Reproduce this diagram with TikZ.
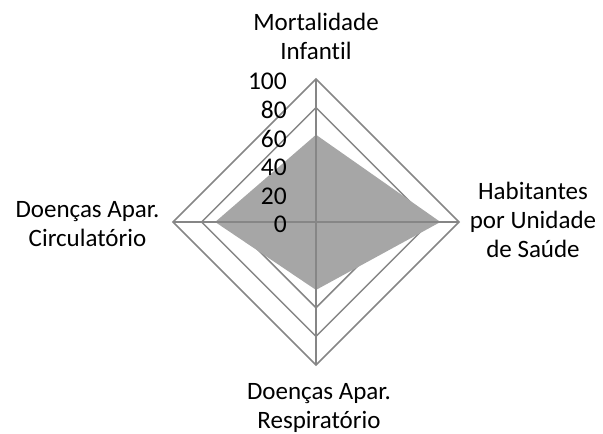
\documentclass[tikz,border=0pt]{standalone}
\usepackage{fontspec}
\setmainfont[Ligatures=NoCommon]{Carlito}
\usetikzlibrary{calc}
\definecolor{gridgray}{HTML}{868686}
\definecolor{fillgray}{HTML}{A6A6A6}
\begin{document}
\begin{tikzpicture}[x=1pt,y=1pt,
  gridline/.style={draw=gridgray,line width=1.5pt,line join=miter},
  spoke/.style={draw=gridgray,line width=1.5pt},
  datafill/.style={fill=fillgray,draw=none},
  ticklbl/.style={anchor=base east,inner sep=0pt,font=\fontsize{25.5}{29}\selectfont},
  axlbl/.style={anchor=base,inner sep=0pt,align=center,font=\fontsize{25}{29}\selectfont}]
\useasboundingbox (0,0) rectangle (603,434);
\coordinate (C) at (316,212);
\def\R{143}
% rings
\foreach \k in {1,...,5}{
  \draw[gridline] ($(C)+(0,\R*\k/5)$) -- ($(C)+(\R*\k/5,0)$) -- ($(C)+(0,-\R*\k/5)$) -- ($(C)+(-\R*\k/5,0)$) -- cycle;
}
% data
\fill[datafill] ($(C)+(0,\R*0.61)$) -- ($(C)+(\R*0.87,0)$) -- ($(C)+(0,-\R*0.475)$) -- ($(C)+(-\R*0.705,0)$) -- cycle;
% spokes
\coordinate (T) at ($(C)+(0,\R)$);
\coordinate (Rt) at ($(C)+(\R,0)$);
\coordinate (B) at ($(C)+(0,-\R)$);
\coordinate (L) at ($(C)+(-\R,0)$);
\draw[spoke] (C) -- (T);
\draw[spoke] (C) -- (Rt);
\draw[spoke] (C) -- (B);
\draw[spoke] (C) -- (L);
% tick labels
\foreach \k/\v in {0/0,1/20,2/40,3/60,4/80,5/100}{
  \node[ticklbl] (tick\k) at (287,{212+\R*\k/5-11}) {\v};
}
% axis labels (base = baseline of last line)
\node[axlbl] (lblT) at (316,374.5) {Mortalidade\\Infantil};
\node[axlbl] (lblR) at (533,176.7) {Habitantes\\por Unidade\\de Saúde};
\node[axlbl] (lblL) at (87.5,187) {Doenças Apar.\\Circulatório};
\node[axlbl] (lblB) at (319,5.5) {Doenças Apar.\\Respiratório};
\end{tikzpicture}
\end{document}
